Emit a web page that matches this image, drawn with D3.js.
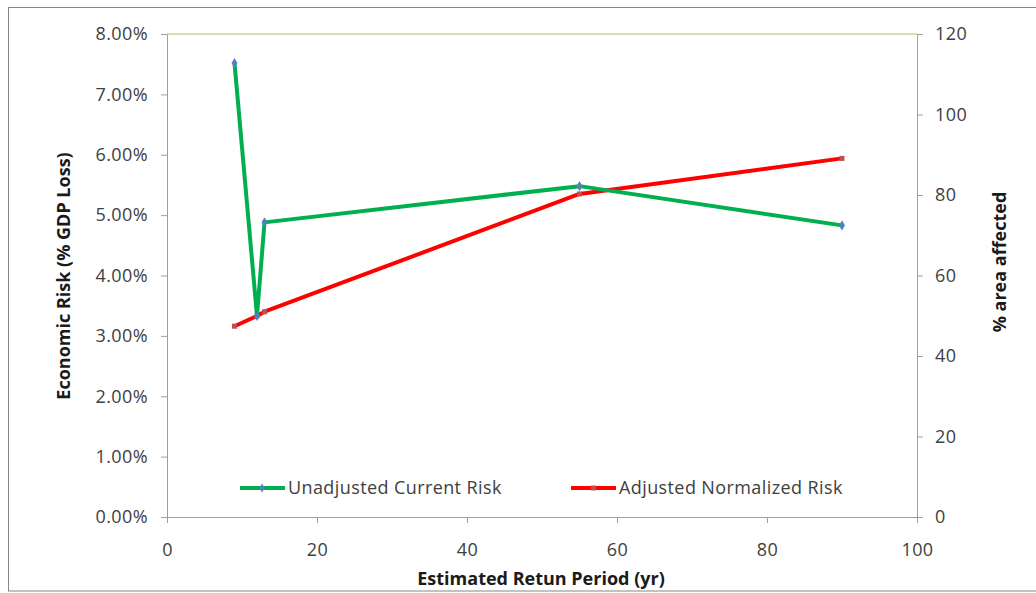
<!DOCTYPE html>
<html><head><meta charset="utf-8">
<script src="https://cdn.jsdelivr.net/npm/d3@7/dist/d3.min.js"></script>
<style>body{margin:0;background:#fff}svg{display:block}</style>
</head><body>
<svg id="c" width="1036" height="593"></svg>
<script>
const returnPeriods = [9, 12, 13, 55, 90];
const unadjustedRisk = [0.0752, 0.0333, 0.0488, 0.0548, 0.0483];
const adjustedRisk = [0.0316, 0.0333, 0.0340, 0.0535, 0.0594];
const xTicks = [0, 20, 40, 60, 80, 100];
const yLeftTicks = [0, 0.01, 0.02, 0.03, 0.04, 0.05, 0.06, 0.07, 0.08];
const yRightTicks = [0, 20, 40, 60, 80, 100, 120];
const seriesNames = ["Unadjusted Current Risk", "Adjusted Normalized Risk"];

const svg = d3.select("#c");
const font = "'Open Sans', Lato, sans-serif";
const L = 167, R = 917, T = 34, B = 517;
const x = d3.scaleLinear().domain([0, 100]).range([L, R]);
const yL = d3.scaleLinear().domain([0, 0.08]).range([B, T]);
const yR = d3.scaleLinear().domain([0, 120]).range([B, T]);

// outer frame
svg.append("rect").attr("x", 8.5).attr("y", 7.5).attr("width", 1100).attr("height", 583.5)
  .attr("fill", "none").attr("stroke", "#868686").attr("stroke-width", 1);

// top gridline
svg.append("line").attr("x1", L).attr("x2", R).attr("y1", yL(0.08)).attr("y2", yL(0.08))
  .attr("stroke", "#c3d69b").attr("stroke-width", 1.5);

function styleAxis(g) {
  g.selectAll(".domain, .tick line").attr("stroke", "#a0a0a0").attr("stroke-width", 1);
  g.selectAll("text").attr("fill", "#404040").style("font-family", font).style("font-size", "18px")
    .style("letter-spacing", "0.4px");
}
svg.append("g").attr("transform", `translate(${L},0)`)
  .call(d3.axisLeft(yL).tickValues(yLeftTicks).tickFormat(d3.format(".2%")).tickSize(6).tickSizeOuter(0).tickPadding(13))
  .call(styleAxis);
svg.append("g").attr("transform", `translate(${R},0)`)
  .call(d3.axisRight(yR).tickValues(yRightTicks).tickSize(6).tickSizeOuter(0).tickPadding(12))
  .call(styleAxis);
svg.append("g").attr("transform", `translate(0,${B})`)
  .call(d3.axisBottom(x).tickValues(xTicks).tickSize(6).tickSizeOuter(0).tickPadding(20))
  .call(styleAxis);

// titles
const tStyle = s => s.style("font-family", font).style("font-size", "18px").style("font-weight", "bold").attr("fill", "#1a1a1a");
svg.append("text").attr("x", 541).attr("y", 585).attr("text-anchor", "middle").call(tStyle)
  .text("Estimated Retun Period (yr)");
svg.append("text").attr("transform", "translate(70,276) rotate(-90)").attr("text-anchor", "middle").call(tStyle)
  .text("Economic Risk (% GDP Loss)");
svg.append("text").attr("transform", "translate(1006,262) rotate(-90)").attr("text-anchor", "middle").call(tStyle)
  .text("% area affected");

const line = d3.line().x(d => x(d[0])).y(d => yL(d[1]));
const gData = returnPeriods.map((p, i) => [p, unadjustedRisk[i]]);
const rData = returnPeriods.map((p, i) => [p, adjustedRisk[i]]);

svg.append("path").datum(rData).attr("d", line).attr("fill", "none")
  .attr("stroke", "#ff0000").attr("stroke-width", 4).attr("stroke-linejoin", "round");
svg.append("path").datum(gData).attr("d", line).attr("fill", "none")
  .attr("stroke", "#00b050").attr("stroke-width", 4).attr("stroke-linejoin", "round");

svg.selectAll(".rm").data(rData).enter().append("rect")
  .attr("x", d => x(d[0]) - 2.5).attr("y", d => yL(d[1]) - 2.5).attr("width", 5).attr("height", 5)
  .attr("fill", "#c0504d");
svg.selectAll(".gm").data(gData).enter().append("path")
  .attr("d", d3.symbol(d3.symbolDiamond, 30))
  .attr("transform", d => `translate(${x(d[0])},${yL(d[1])})`).attr("fill", "#4f81bd");

// legend
const leg = [
  {x: 240, color: "#00b050", marker: "diamond", mc: "#4f81bd", name: seriesNames[0]},
  {x: 571, color: "#ff0000", marker: "square", mc: "#c0504d", name: seriesNames[1]}
];
leg.forEach(l => {
  const g = svg.append("g").attr("transform", `translate(${l.x},488)`);
  g.append("line").attr("x1", 0).attr("x2", 45).attr("stroke", l.color).attr("stroke-width", 4);
  if (l.marker === "diamond") g.append("path").attr("d", d3.symbol(d3.symbolDiamond, 24)).attr("transform", "translate(22,0)").attr("fill", l.mc);
  else g.append("rect").attr("x", 20).attr("y", -2.5).attr("width", 5).attr("height", 5).attr("fill", l.mc);
  g.append("text").attr("x", 48).attr("y", 6).style("font-family", font).style("font-size", "18px")
    .style("letter-spacing", "0.4px").attr("fill", "#404040").text(l.name);
});
</script>
</body></html>
